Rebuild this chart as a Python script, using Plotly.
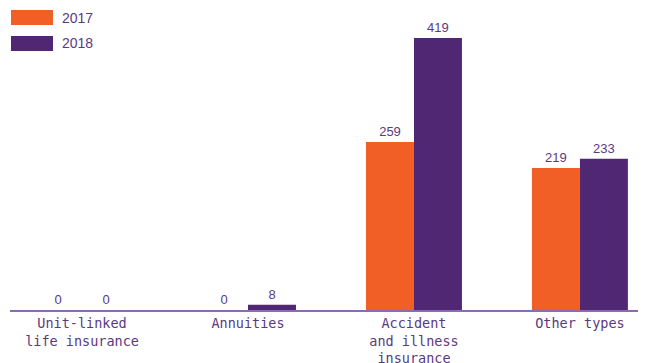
import plotly.graph_objects as go

categories = ["Unit-linked<br>life insurance", "Annuities", "Accident<br>and illness<br>insurance", "Other types"]
series_names = ["2017", "2018"]
values_2017 = [0, 0, 259, 219]
values_2018 = [0, 8, 419, 233]

orange = "#F25F26"
purple = "#4F2773"
text_color = "#5A3A82"
axis_color = "#8C6BB5"

fig = go.Figure()
for name, vals, col in [(series_names[0], values_2017, orange), (series_names[1], values_2018, purple)]:
    fig.add_trace(go.Bar(
        x=categories, y=vals, name=name, marker=dict(color=col, line=dict(width=0)),
        text=[str(v) for v in vals], textposition="outside", cliponaxis=False,
        textfont=dict(family="Liberation Sans, Arial, sans-serif", size=13, color=text_color),
        showlegend=False,
    ))

fig.update_layout(
    width=646, height=363,
    margin=dict(l=2, r=8, t=10, b=61),
    paper_bgcolor="white", plot_bgcolor="white",
    barmode="group", bargap=0.422, bargroupgap=0,
    xaxis=dict(range=[-0.434, 3.398], showgrid=False, showline=True, linecolor=axis_color, linewidth=1.5,
               ticks="", automargin=False,
               tickfont=dict(family="DejaVu Sans Mono, monospace", size=13.5, color=text_color)),
    yaxis=dict(range=[0, 450], visible=False, showgrid=False, zeroline=False),
    showlegend=False,
)

# custom legend
for i, (name, col) in enumerate([(series_names[0], orange), (series_names[1], purple)]):
    y0 = 10 + i * 26
    fig.add_shape(type="rect", xref="paper", yref="paper",
                  x0=(11 - 10) / 636, x1=(53 - 10) / 636,
                  y0=(310 - (y0 + 15)) / 292, y1=(310 - y0) / 292,
                  fillcolor=col, line=dict(width=0))
    fig.add_annotation(xref="paper", yref="paper", x=(60 - 10) / 636, y=(310 - (y0 + 7.5)) / 292,
                       text=name, showarrow=False, xanchor="left", yanchor="middle",
                       font=dict(family="Liberation Sans, Arial, sans-serif", size=14, color=text_color))

fig.write_html("out.html")
